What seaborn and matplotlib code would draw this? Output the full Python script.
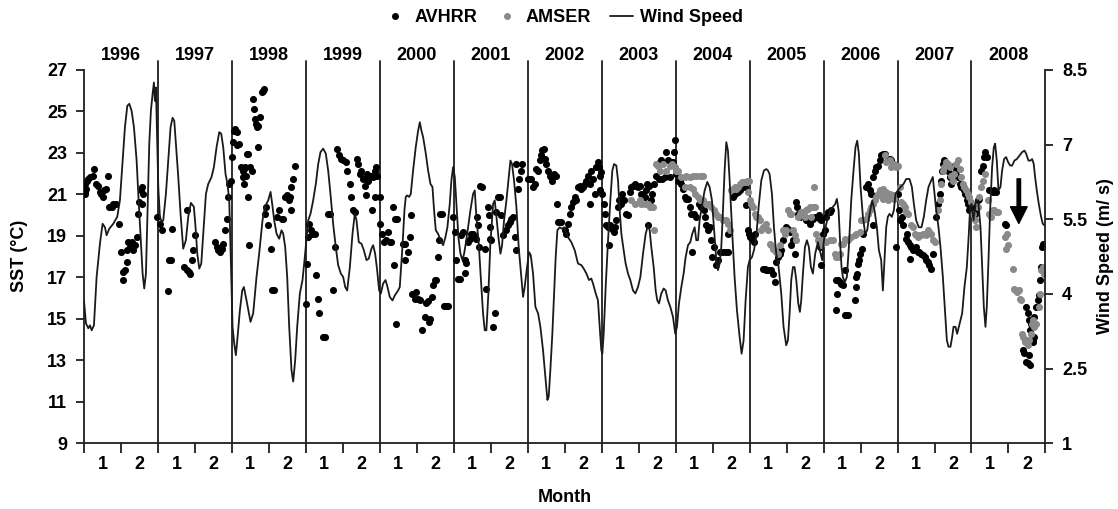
import numpy as np
import pandas as pd
import matplotlib
matplotlib.use("Agg")
import matplotlib.pyplot as plt
import seaborn as sns
from matplotlib.lines import Line2D

# ---------------- data (x = years since start of 1996) ----------------
years = [str(y) for y in range(1996, 2009)]
month_labels = ["1", "2"]
sst_ticks = [9, 11, 13, 15, 17, 19, 21, 23, 25, 27]
wind_ticks = [1, 2.5, 4, 5.5, 7, 8.5]
wind_tick_labels = ["1", "2.5", "4", "5.5", "7", "8.5"]

wind_t = [0.000, 0.027, 0.059, 0.081, 0.104, 0.135, 0.171, 0.216, 0.252, 0.284, 0.306, 0.342, 0.396, 0.450, 0.486, 0.523, 0.554, 0.586, 0.613, 0.644,
          0.676, 0.712, 0.739, 0.766, 0.793, 0.815, 0.838, 0.860, 0.883, 0.905, 0.928, 0.946, 0.959, 0.973, 0.986, 1.005, 1.027, 1.050, 1.072, 1.108,
          1.140, 1.171, 1.198, 1.221, 1.243, 1.275, 1.306, 1.342, 1.378, 1.410, 1.446, 1.486, 1.509, 1.532, 1.559, 1.586, 1.613, 1.649, 1.680, 1.725,
          1.757, 1.793, 1.829, 1.856, 1.883, 1.914, 1.941, 1.964, 1.986, 2.009, 2.032, 2.054, 2.077, 2.108, 2.140, 2.162, 2.198, 2.252, 2.288, 2.333,
          2.369, 2.414, 2.446, 2.491, 2.523, 2.545, 2.572, 2.604, 2.640, 2.671, 2.694, 2.721, 2.748, 2.775, 2.806, 2.829, 2.856, 2.883, 2.919, 2.955,
          2.986, 3.032, 3.063, 3.099, 3.135, 3.167, 3.198, 3.234, 3.270, 3.302, 3.333, 3.369, 3.405, 3.437, 3.473, 3.505, 3.532, 3.559, 3.595, 3.631,
          3.662, 3.685, 3.716, 3.752, 3.784, 3.820, 3.851, 3.887, 3.910, 3.937, 3.964, 3.991, 4.014, 4.045, 4.077, 4.104, 4.135, 4.171, 4.203, 4.248,
          4.270, 4.306, 4.333, 4.351, 4.369, 4.396, 4.419, 4.450, 4.486, 4.518, 4.541, 4.563, 4.586, 4.622, 4.653, 4.685, 4.712, 4.734, 4.757, 4.788,
          4.820, 4.856, 4.887, 4.914, 4.946, 4.968, 4.991, 5.014, 5.036, 5.063, 5.090, 5.117, 5.140, 5.162, 5.194, 5.225, 5.261, 5.284, 5.306, 5.338,
          5.365, 5.396, 5.419, 5.441, 5.468, 5.495, 5.532, 5.554, 5.577, 5.604, 5.631, 5.653, 5.680, 5.712, 5.739, 5.766, 5.788, 5.815, 5.847, 5.878,
          5.910, 5.937, 5.959, 5.991, 6.018, 6.041, 6.072, 6.104, 6.140, 6.171, 6.207, 6.239, 6.266, 6.284, 6.306, 6.333, 6.356, 6.378, 6.401, 6.432,
          6.464, 6.491, 6.545, 6.590, 6.635, 6.680, 6.725, 6.757, 6.793, 6.829, 6.860, 6.883, 6.919, 6.950, 6.973, 6.995, 7.009, 7.027, 7.054, 7.086,
          7.117, 7.144, 7.167, 7.198, 7.221, 7.243, 7.266, 7.297, 7.324, 7.356, 7.387, 7.423, 7.455, 7.491, 7.523, 7.559, 7.595, 7.626, 7.649, 7.671,
          7.703, 7.730, 7.752, 7.775, 7.806, 7.838, 7.865, 7.896, 7.928, 7.964, 7.995, 8.018, 8.045, 8.077, 8.108, 8.135, 8.167, 8.198, 8.225, 8.257,
          8.279, 8.302, 8.324, 8.360, 8.392, 8.428, 8.459, 8.491, 8.518, 8.550, 8.572, 8.595, 8.617, 8.640, 8.662, 8.685, 8.707, 8.730, 8.766, 8.797,
          8.829, 8.865, 8.892, 8.919, 8.946, 8.977, 9.000, 9.032, 9.059, 9.090, 9.122, 9.158, 9.194, 9.225, 9.248, 9.270, 9.302, 9.329, 9.360, 9.392,
          9.428, 9.459, 9.495, 9.518, 9.541, 9.563, 9.586, 9.608, 9.631, 9.658, 9.680, 9.698, 9.721, 9.748, 9.775, 9.802, 9.829, 9.856, 9.887, 9.923,
          9.955, 9.982, 10.000, 10.027, 10.059, 10.090, 10.126, 10.158, 10.180, 10.203, 10.225, 10.243, 10.261, 10.288, 10.315, 10.342, 10.374, 10.405, 10.432, 10.455,
          10.477, 10.500, 10.532, 10.563, 10.590, 10.622, 10.658, 10.689, 10.721, 10.748, 10.779, 10.802, 10.824, 10.847, 10.869, 10.892, 10.923, 10.950, 10.973, 11.005,
          11.041, 11.081, 11.117, 11.162, 11.194, 11.221, 11.252, 11.288, 11.324, 11.356, 11.387, 11.419, 11.455, 11.477, 11.500, 11.523, 11.554, 11.581, 11.613, 11.644,
          11.667, 11.689, 11.716, 11.739, 11.757, 11.784, 11.806, 11.829, 11.851, 11.874, 11.905, 11.937, 11.964, 11.982, 12.000, 12.027, 12.063, 12.090, 12.122, 12.144,
          12.167, 12.189, 12.207, 12.230, 12.252, 12.279, 12.302, 12.320, 12.342, 12.365, 12.392, 12.414, 12.441, 12.468, 12.495, 12.523, 12.550, 12.581, 12.613, 12.649,
          12.685, 12.716, 12.739, 12.770, 12.797, 12.820, 12.842, 12.860, 12.883, 12.910, 12.941, 12.964, 12.986]

wind_ms = [3.87, 3.41, 3.31, 3.37, 3.27, 3.37, 4.34, 5.01, 5.41, 5.34, 5.18, 5.31, 5.41, 5.55, 5.88, 6.68, 7.35, 7.78, 7.82, 7.68,
           7.35, 6.68, 5.88, 5.14, 4.41, 4.11, 4.41, 5.68, 7.02, 7.68, 8.02, 8.25, 7.88, 8.15, 7.35, 6.15, 5.55, 5.45, 5.48, 6.01,
           6.68, 7.35, 7.54, 7.48, 7.02, 6.35, 5.61, 4.91, 5.08, 5.55, 5.83, 5.75, 5.34, 4.81, 4.51, 4.61, 5.21, 6.01, 6.21, 6.35,
           6.55, 6.95, 7.25, 7.22, 6.95, 6.41, 6.21, 5.88, 4.68, 3.34, 3.00, 2.77, 3.14, 3.67, 4.07, 4.14, 3.87, 3.44, 3.61, 4.34,
           4.81, 5.48, 5.75, 5.88, 6.05, 5.81, 5.48, 5.21, 5.11, 5.28, 5.21, 4.94, 4.34, 3.34, 2.47, 2.24, 2.67, 3.34, 4.01, 4.28,
           4.74, 5.48, 5.61, 5.88, 6.21, 6.61, 6.85, 6.92, 6.82, 6.48, 6.01, 5.41, 4.94, 4.58, 4.41, 4.34, 4.14, 4.07, 4.54, 5.21,
           5.61, 5.48, 5.04, 5.01, 4.88, 4.68, 4.71, 4.91, 4.98, 4.81, 4.48, 4.07, 4.01, 4.21, 4.28, 4.14, 3.94, 3.87, 3.97, 4.07,
           4.14, 4.94, 5.68, 5.95, 5.98, 5.95, 6.01, 6.48, 6.95, 7.28, 7.45, 7.28, 7.15, 6.82, 6.48, 6.21, 6.15, 5.68, 5.28, 5.21,
           5.08, 4.98, 5.14, 5.34, 5.81, 6.28, 6.55, 6.35, 5.81, 5.14, 4.81, 4.68, 4.81, 5.01, 5.34, 5.68, 6.01, 6.08, 5.55, 5.01,
           4.34, 3.61, 3.27, 3.27, 4.01, 5.01, 5.81, 5.88, 5.55, 5.14, 4.81, 4.98, 5.48, 5.88, 6.28, 6.68, 6.61, 6.28, 5.75, 4.94,
           4.41, 3.94, 4.14, 4.54, 4.84, 4.78, 4.41, 3.74, 3.61, 3.34, 2.87, 2.34, 1.87, 1.94, 2.47, 3.20, 4.01, 4.74, 5.28, 5.34,
           5.31, 5.34, 5.14, 5.04, 4.88, 4.61, 4.58, 4.51, 4.41, 4.28, 4.31, 4.21, 4.01, 3.87, 3.34, 2.87, 2.80, 3.20, 4.14, 5.08,
           5.88, 6.48, 6.61, 6.58, 6.28, 5.68, 5.21, 4.88, 4.61, 4.41, 4.28, 4.07, 4.01, 4.14, 4.34, 4.81, 5.21, 5.38, 5.28, 4.94,
           4.54, 4.07, 3.87, 3.81, 4.01, 4.11, 4.07, 3.87, 3.74, 3.54, 3.20, 3.34, 3.81, 4.14, 4.41, 4.74, 4.98, 5.04, 5.21, 5.34,
           5.08, 5.08, 5.48, 5.81, 6.08, 6.25, 6.15, 5.88, 5.34, 4.68, 4.48, 4.61, 4.94, 5.68, 6.48, 7.05, 6.88, 6.28, 5.21, 4.34,
           3.67, 3.14, 2.80, 3.07, 3.87, 4.54, 4.68, 4.74, 4.88, 5.14, 5.75, 6.28, 6.48, 6.51, 6.48, 6.41, 6.01, 5.34, 4.81, 4.54,
           4.01, 3.34, 2.97, 3.07, 3.61, 4.28, 4.54, 4.54, 4.28, 3.81, 3.64, 3.87, 4.41, 4.94, 5.08, 4.94, 4.54, 4.41, 4.81, 5.04,
           4.84, 4.68, 5.01, 5.34, 5.55, 5.68, 5.75, 5.81, 5.91, 5.68, 5.01, 4.54, 4.34, 4.24, 4.34, 4.94, 5.88, 6.48, 6.95, 7.08,
           6.82, 6.15, 5.55, 5.21, 5.28, 5.61, 5.88, 5.68, 5.34, 4.88, 4.68, 4.07, 4.68, 5.34, 5.55, 5.61, 5.55, 5.68, 6.01, 6.08,
           6.15, 6.21, 6.31, 6.31, 6.15, 5.81, 5.48, 5.34, 5.34, 5.55, 5.88, 6.15, 6.28, 6.35, 6.01, 5.68, 5.34, 4.94, 4.34, 3.61,
           3.07, 2.94, 2.94, 3.14, 3.34, 3.34, 3.20, 3.34, 3.47, 3.61, 4.14, 4.54, 5.21, 5.75, 5.81, 5.48, 5.88, 5.88, 5.34, 4.54,
           3.74, 3.34, 3.74, 4.68, 5.68, 6.55, 6.95, 7.02, 6.68, 6.08, 6.15, 6.48, 6.71, 6.75, 6.65, 6.58, 6.58, 6.68, 6.71, 6.78,
           6.85, 6.88, 6.82, 6.68, 6.68, 6.71, 6.61, 6.35, 6.08, 5.81, 5.55, 5.41, 5.38]

# AVHRR SST (time, degC)
avhrr_1996 = [(0.010, 21.11), (0.012, 21.03), (0.014, 21.51), (0.027, 21.27), (0.036, 21.67), (0.059, 21.75), (0.081, 21.83), (0.117, 21.91),
              (0.135, 22.23), (0.162, 21.51), (0.194, 21.43), (0.216, 21.11), (0.230, 21.03), (0.252, 20.87), (0.270, 21.19), (0.297, 21.27),
              (0.320, 21.91), (0.342, 20.39), (0.374, 20.39), (0.396, 20.55), (0.432, 20.55), (0.477, 19.56), (0.495, 18.22), (0.523, 16.86),
              (0.532, 17.26), (0.554, 17.34), (0.577, 17.74), (0.577, 18.30), (0.599, 18.70), (0.622, 18.46), (0.644, 18.70), (0.667, 18.30),
              (0.689, 18.54), (0.721, 18.94), (0.734, 20.07), (0.748, 20.63), (0.766, 21.19), (0.779, 21.35), (0.793, 21.03), (0.784, 20.55)]
avhrr_1997 = [(0.991, 19.91), (1.027, 19.59), (1.050, 19.27), (1.140, 16.33), (1.153, 17.82), (1.171, 17.82), (1.185, 19.35), (1.351, 17.50),
              (1.387, 17.34), (1.414, 17.26), (1.432, 17.18), (1.396, 20.23), (1.455, 17.82), (1.477, 18.30), (1.500, 19.02), (1.770, 18.70),
              (1.793, 18.46), (1.815, 18.30), (1.838, 18.22), (1.860, 18.38), (1.883, 18.62), (1.905, 19.27), (1.928, 19.83), (1.941, 20.87),
              (1.964, 21.51), (1.982, 21.67)]
avhrr_1998 = [(1.995, 22.80), (2.009, 23.52), (2.027, 24.08), (2.041, 24.16), (2.063, 24.00), (2.072, 23.36), (2.099, 23.44), (2.122, 22.31),
              (2.144, 22.15), (2.153, 21.83), (2.167, 21.51), (2.185, 21.91), (2.198, 22.96), (2.221, 20.87), (2.234, 18.54), (2.162, 22.23),
              (2.176, 22.31), (2.221, 22.96), (2.243, 22.31), (2.266, 22.15), (2.279, 25.60), (2.297, 25.12), (2.311, 24.64), (2.324, 24.40),
              (2.342, 24.24), (2.356, 24.32), (2.356, 23.28), (2.378, 24.72), (2.401, 25.93), (2.423, 26.01), (2.432, 26.09), (2.446, 20.07),
              (2.468, 20.39), (2.491, 19.51), (2.527, 18.38), (2.536, 16.38), (2.568, 16.38), (2.604, 19.91), (2.640, 20.23), (2.671, 19.83),
              (2.694, 19.83), (2.716, 20.87), (2.739, 20.95), (2.761, 20.87), (2.775, 20.74), (2.784, 20.87), (2.793, 20.23), (2.806, 21.35),
              (2.829, 21.75), (2.851, 22.39)]
avhrr_1999 = [(3.000, 15.74), (3.009, 17.66), (3.032, 18.94), (3.045, 19.59), (3.063, 19.27), (3.090, 19.10), (3.122, 19.10), (3.144, 17.10),
              (3.158, 15.98), (3.176, 15.26), (3.234, 14.13), (3.257, 14.13), (3.302, 20.07), (3.324, 20.07), (3.369, 16.38), (3.392, 18.46),
              (3.423, 23.20), (3.450, 22.88), (3.473, 22.72), (3.505, 22.64), (3.541, 22.56), (3.563, 22.15), (3.595, 21.51), (3.617, 20.87),
              (3.640, 20.23), (3.662, 20.15), (3.685, 22.72), (3.707, 22.47), (3.730, 21.99), (3.752, 22.15), (3.775, 21.75), (3.797, 21.43),
              (3.811, 20.95), (3.833, 21.99), (3.842, 21.67), (3.856, 21.83), (3.878, 21.91), (3.896, 20.23), (3.910, 21.83), (3.932, 22.15),
              (3.932, 20.87), (3.955, 22.31), (3.968, 21.91), (4.000, 20.87)]
avhrr_2000 = [(4.009, 19.59), (4.036, 19.10), (4.054, 18.70), (4.090, 18.78), (4.113, 19.19), (4.135, 18.70), (4.158, 18.70), (4.180, 20.39),
              (4.194, 17.58), (4.203, 19.83), (4.216, 14.77), (4.234, 19.83), (4.315, 18.62), (4.347, 17.82), (4.338, 18.62), (4.383, 18.22),
              (4.405, 18.94), (4.428, 19.99), (4.441, 16.22), (4.473, 15.98), (4.495, 16.30), (4.518, 15.98), (4.550, 15.93), (4.577, 14.45),
              (4.608, 15.10), (4.631, 15.77), (4.653, 15.87), (4.667, 14.85), (4.685, 15.01), (4.707, 16.06), (4.721, 16.62), (4.743, 16.86),
              (4.766, 16.86), (4.788, 17.98), (4.802, 18.82), (4.820, 20.04), (4.847, 20.07), (4.865, 15.61), (4.901, 15.61), (4.923, 15.61)]
avhrr_2001 = [(4.991, 19.91), (5.014, 19.19), (5.027, 17.82), (5.059, 16.94), (5.081, 16.94), (5.104, 19.02), (5.126, 19.19), (5.149, 17.86),
              (5.158, 17.21), (5.171, 17.69), (5.194, 18.70), (5.216, 18.86), (5.239, 19.10), (5.261, 19.10), (5.284, 18.94), (5.306, 18.86),
              (5.320, 19.91), (5.329, 19.51), (5.342, 18.46), (5.360, 21.43), (5.387, 21.35), (5.419, 18.38), (5.441, 16.46), (5.464, 20.39),
              (5.477, 19.99), (5.486, 19.43), (5.495, 18.86), (5.509, 18.78), (5.532, 14.61), (5.554, 15.26), (5.577, 20.15), (5.599, 20.87),
              (5.622, 20.87), (5.644, 19.99), (5.667, 19.02), (5.712, 19.27), (5.734, 19.51), (5.757, 19.67), (5.779, 19.83), (5.802, 19.91),
              (5.824, 18.94), (5.838, 18.30), (5.847, 22.47), (5.869, 21.27), (5.883, 21.75), (5.914, 22.15), (5.928, 22.47)]
avhrr_2002 = [(6.005, 21.75), (6.027, 21.75), (6.050, 21.75), (6.072, 21.35), (6.095, 21.51), (6.117, 22.23), (6.140, 22.15), (6.162, 22.64),
              (6.185, 22.88), (6.198, 23.12), (6.216, 23.20), (6.239, 22.72), (6.252, 22.47), (6.275, 22.15), (6.297, 21.91), (6.320, 21.83),
              (6.333, 21.67), (6.351, 21.99), (6.378, 21.91), (6.396, 20.55), (6.410, 19.67), (6.455, 19.67), (6.500, 19.27), (6.523, 19.10),
              (6.545, 19.59), (6.568, 20.07), (6.590, 20.39), (6.613, 20.63), (6.635, 20.87), (6.658, 20.71), (6.680, 21.35), (6.703, 21.43),
              (6.725, 21.27), (6.748, 21.35), (6.770, 21.51), (6.793, 21.67), (6.815, 21.91), (6.838, 21.51), (6.847, 20.55), (6.860, 22.15),
              (6.883, 21.75), (6.905, 21.03), (6.928, 22.31), (6.950, 22.56), (6.964, 22.31), (6.973, 21.19), (6.982, 21.91), (6.995, 22.07)]
avhrr_2003 = [(7.009, 21.03), (7.027, 20.55), (7.041, 20.07), (7.063, 19.51), (7.086, 19.43), (7.099, 18.54), (7.117, 19.51), (7.144, 19.35),
              (7.162, 19.19), (7.176, 19.43), (7.198, 19.75), (7.221, 20.39), (7.234, 20.71), (7.257, 20.55), (7.279, 21.03), (7.297, 20.71),
              (7.333, 20.07), (7.356, 19.99), (7.378, 21.11), (7.401, 21.35), (7.423, 21.43), (7.446, 21.51), (7.468, 21.43), (7.495, 21.35),
              (7.514, 21.43), (7.536, 21.03), (7.559, 21.03), (7.581, 20.87), (7.595, 21.19), (7.613, 21.51), (7.640, 21.43), (7.662, 20.71),
              (7.685, 21.03), (7.703, 21.51), (7.739, 21.91), (7.770, 21.75), (7.784, 22.56), (7.806, 22.64), (7.820, 21.75), (7.851, 21.83),
              (7.874, 23.04), (7.896, 22.64), (7.919, 21.83), (7.941, 22.56), (7.964, 22.56), (7.977, 23.04), (7.986, 23.60), (7.626, 19.51)]
avhrr_2004 = [(8.009, 21.99), (8.032, 21.67), (8.054, 21.67), (8.077, 21.51), (8.099, 21.27), (8.122, 20.87), (8.144, 20.79), (8.167, 20.79),
              (8.189, 20.39), (8.212, 20.07), (8.225, 18.22), (8.248, 20.07), (8.279, 19.91), (8.315, 20.55), (8.347, 20.39), (8.378, 20.23),
              (8.401, 19.91), (8.414, 19.51), (8.437, 19.27), (8.459, 19.43), (8.482, 18.78), (8.495, 17.98), (8.514, 18.46), (8.541, 17.58),
              (8.572, 17.82), (8.595, 18.22), (8.640, 18.22), (8.685, 18.22), (8.707, 18.22), (8.707, 19.10), (8.775, 20.87), (8.797, 21.03),
              (8.820, 21.11), (8.842, 21.11), (8.865, 21.19), (8.887, 21.51), (8.910, 21.43), (8.932, 21.35), (8.955, 20.47)]
avhrr_2005 = [(8.977, 19.27), (8.991, 19.10), (9.009, 18.94), (9.036, 18.86), (9.059, 18.70), (9.068, 19.10), (9.180, 17.42), (9.203, 17.42),
              (9.225, 17.37), (9.248, 17.37), (9.270, 17.37), (9.293, 17.34), (9.315, 17.18), (9.338, 16.78), (9.360, 17.74), (9.383, 17.98),
              (9.405, 18.14), (9.428, 18.30), (9.450, 18.78), (9.473, 19.35), (9.495, 19.43), (9.518, 19.35), (9.541, 19.19), (9.563, 18.54),
              (9.586, 18.78), (9.608, 18.14), (9.622, 20.63), (9.640, 20.39), (9.658, 20.07), (9.676, 19.91), (9.698, 20.07), (9.721, 20.07),
              (9.743, 19.91), (9.766, 19.75), (9.788, 19.83), (9.811, 19.59), (9.833, 19.75), (9.856, 19.83), (9.878, 19.91), (9.901, 19.91),
              (9.932, 19.99), (9.946, 19.83), (9.955, 18.46), (9.959, 17.58), (9.968, 19.75)]
avhrr_2006 = [(9.991, 19.10), (10.014, 19.27), (10.036, 19.91), (10.059, 20.15), (10.081, 20.15), (10.104, 20.23), (10.162, 15.45), (10.171, 16.86),
              (10.180, 16.22), (10.194, 16.86), (10.216, 16.78), (10.239, 16.70), (10.261, 16.62), (10.284, 17.34), (10.284, 15.18), (10.306, 15.18),
              (10.329, 15.18), (10.419, 15.90), (10.432, 16.54), (10.441, 17.02), (10.455, 17.18), (10.464, 17.66), (10.477, 17.82), (10.495, 18.14),
              (10.523, 18.38), (10.532, 19.10), (10.577, 21.35), (10.599, 21.51), (10.622, 21.19), (10.644, 21.03), (10.667, 21.83), (10.667, 19.51),
              (10.689, 22.15), (10.712, 22.31), (10.734, 22.39), (10.757, 22.64), (10.779, 22.88), (10.802, 22.96), (10.824, 22.96), (10.824, 22.88),
              (10.869, 22.72), (10.892, 22.72), (10.914, 22.64), (10.937, 22.47), (10.973, 18.46)]
avhrr_2007 = [(11.005, 21.03), (11.018, 20.23), (11.036, 19.75), (11.063, 19.91), (11.072, 19.51), (11.108, 18.86), (11.126, 19.10), (11.144, 18.70),
              (11.162, 18.54), (11.171, 17.90), (11.185, 18.46), (11.207, 18.30), (11.230, 18.38), (11.252, 18.46), (11.275, 18.22), (11.297, 18.22),
              (11.320, 18.14), (11.342, 18.06), (11.365, 17.98), (11.387, 17.82), (11.410, 17.74), (11.432, 17.58), (11.455, 17.42), (11.477, 18.14),
              (11.523, 19.91), (11.545, 20.55), (11.568, 21.03), (11.590, 21.67), (11.604, 22.15), (11.613, 22.47), (11.635, 22.64), (11.658, 22.47),
              (11.680, 22.15), (11.703, 21.83), (11.725, 21.51), (11.748, 21.99), (11.770, 22.39), (11.793, 22.15), (11.815, 21.83), (11.838, 21.51),
              (11.860, 21.35), (11.883, 21.43), (11.905, 21.19), (11.919, 21.03), (11.937, 20.71), (11.950, 20.55), (11.973, 20.23)]
avhrr_2008 = [(11.995, 20.55), (12.018, 20.39), (12.041, 20.07), (12.063, 20.23), (12.086, 20.71), (12.108, 20.79), (12.131, 22.15), (12.153, 22.39),
              (12.176, 22.80), (12.189, 23.04), (12.207, 22.80), (12.243, 21.19), (12.288, 21.11), (12.311, 21.19), (12.333, 21.11), (12.459, 19.59),
              (12.468, 19.51), (12.694, 13.49), (12.716, 13.33), (12.730, 13.97), (12.739, 12.93), (12.739, 15.58), (12.761, 12.85), (12.761, 15.26),
              (12.775, 13.25), (12.784, 14.93), (12.793, 12.77), (12.793, 14.45), (12.806, 14.77), (12.820, 14.61), (12.829, 14.05), (12.829, 13.89),
              (12.851, 14.13), (12.851, 15.10), (12.874, 15.58), (12.896, 15.90), (12.919, 16.14), (12.928, 16.86), (12.941, 17.50), (12.955, 18.46),
              (12.964, 18.62)]

# AMSER SST (time, degC)
amser_2003 = [(7.401, 20.71), (7.446, 20.55), (7.514, 20.71), (7.536, 20.55), (7.581, 20.55), (7.626, 20.55), (7.649, 20.39), (7.694, 20.39),
              (7.707, 19.27), (7.739, 22.47), (7.761, 22.39), (7.784, 22.15), (7.829, 22.47), (7.874, 22.15), (7.919, 22.39), (7.955, 22.47),
              (7.986, 22.31)]
amser_2004 = [(8.009, 22.15), (8.032, 22.15), (8.077, 21.83), (8.122, 21.83), (8.144, 21.91), (8.189, 21.83), (8.234, 21.91), (8.279, 21.91),
              (8.324, 21.91), (8.369, 21.91), (8.122, 21.35), (8.189, 21.35), (8.234, 21.27), (8.257, 21.03), (8.302, 20.87), (8.324, 20.71),
              (8.369, 20.71), (8.414, 20.55), (8.450, 20.55), (8.482, 20.39), (8.514, 20.23), (8.550, 20.07), (8.572, 19.91), (8.595, 19.91),
              (8.640, 19.75), (8.685, 19.75), (8.707, 19.59), (8.730, 19.27), (8.752, 21.19), (8.775, 21.27), (8.797, 21.35), (8.820, 21.27),
              (8.842, 21.35), (8.874, 21.51), (8.901, 21.59), (8.919, 21.59), (8.946, 21.59), (8.964, 21.67), (8.991, 21.67), (8.977, 21.11)]
amser_2005 = [(9.000, 20.71), (9.023, 20.55), (9.045, 20.39), (9.068, 20.07), (9.090, 19.91), (9.113, 19.91), (9.135, 19.75), (9.158, 19.27),
              (9.180, 19.43), (9.225, 19.59), (9.248, 19.27), (9.270, 18.62), (9.293, 18.54), (9.315, 18.38), (9.338, 18.30), (9.360, 18.22),
              (9.383, 18.14), (9.405, 18.54), (9.450, 19.27), (9.473, 19.10), (9.495, 19.27), (9.518, 20.23), (9.541, 20.07), (9.563, 20.07),
              (9.586, 19.27), (9.608, 19.02), (9.631, 18.78), (9.653, 19.91), (9.676, 20.07), (9.698, 20.15), (9.721, 19.99), (9.743, 19.91),
              (9.766, 20.23), (9.788, 20.31), (9.811, 20.39), (9.833, 19.91), (9.856, 20.39), (9.865, 21.35), (9.878, 20.39), (9.901, 19.10),
              (9.923, 18.78), (9.946, 18.78), (9.968, 18.54)]
amser_2006 = [(9.991, 18.78), (10.036, 18.70), (10.081, 18.78), (10.126, 18.78), (10.149, 18.14), (10.171, 17.98), (10.194, 17.98), (10.216, 18.14),
              (10.239, 18.62), (10.261, 18.62), (10.284, 18.86), (10.329, 18.78), (10.374, 18.94), (10.419, 19.02), (10.441, 19.10), (10.486, 19.19),
              (10.509, 19.75), (10.532, 19.75), (10.577, 19.83), (10.599, 20.07), (10.622, 20.23), (10.644, 20.39), (10.667, 20.55), (10.689, 20.71),
              (10.712, 20.87), (10.734, 21.03), (10.757, 21.19), (10.779, 21.03), (10.802, 20.79), (10.847, 20.87), (10.869, 20.71), (10.824, 22.88),
              (10.892, 22.64), (10.847, 22.56), (10.914, 22.31), (10.959, 22.47), (10.982, 22.31), (10.802, 21.27), (10.847, 21.11), (10.892, 21.03),
              (10.937, 20.95), (10.959, 20.79)]
amser_2007 = [(11.005, 22.39), (11.027, 21.35), (11.050, 20.63), (11.072, 20.55), (11.095, 20.39), (11.117, 20.15), (11.140, 20.07), (11.185, 19.51),
              (11.207, 19.43), (11.230, 19.10), (11.252, 19.02), (11.275, 18.94), (11.297, 19.02), (11.320, 19.02), (11.342, 19.10), (11.365, 19.10),
              (11.387, 19.02), (11.410, 19.27), (11.432, 19.19), (11.455, 19.10), (11.477, 18.78), (11.500, 18.70), (11.545, 20.23), (11.568, 20.71),
              (11.590, 21.51), (11.613, 22.15), (11.635, 22.31), (11.658, 22.56), (11.680, 22.47), (11.703, 22.31), (11.725, 21.91), (11.748, 21.67),
              (11.770, 21.99), (11.793, 22.47), (11.815, 22.64), (11.838, 22.23), (11.860, 21.83), (11.883, 21.51), (11.905, 21.35), (11.928, 21.19),
              (11.950, 21.03), (11.973, 20.87), (11.995, 20.63)]
amser_2008 = [(12.018, 20.07), (12.041, 19.75), (12.063, 19.43), (12.086, 20.39), (12.108, 20.87), (12.131, 21.35), (12.162, 21.67), (12.189, 21.99),
              (12.225, 20.71), (12.243, 20.07), (12.266, 19.91), (12.288, 20.23), (12.311, 20.23), (12.333, 20.15), (12.356, 20.15), (12.459, 18.94),
              (12.477, 19.10), (12.468, 18.38), (12.491, 18.54), (12.559, 17.42), (12.572, 16.46), (12.595, 16.38), (12.617, 16.30), (12.640, 16.38),
              (12.658, 15.98), (12.671, 15.90), (12.685, 14.29), (12.703, 14.13), (12.730, 13.89), (12.761, 13.73), (12.784, 13.97), (12.806, 14.29),
              (12.820, 14.77), (12.838, 14.93), (12.851, 14.61), (12.874, 14.77), (12.910, 15.58), (12.932, 16.22), (12.946, 17.34), (12.964, 17.50),
              (12.977, 17.18)]

arrow_t = 12.64
arrow_from = 21.75
arrow_to = 19.6

# ---------------- build tables ----------------
avhrr_pts = (avhrr_1996 + avhrr_1997 + avhrr_1998 + avhrr_1999 + avhrr_2000 + avhrr_2001 + avhrr_2002 +
             avhrr_2003 + avhrr_2004 + avhrr_2005 + avhrr_2006 + avhrr_2007 + avhrr_2008)
amser_pts = amser_2003 + amser_2004 + amser_2005 + amser_2006 + amser_2007 + amser_2008
avhrr = pd.DataFrame(avhrr_pts, columns=["t", "sst"])
amser = pd.DataFrame(amser_pts, columns=["t", "sst"])
wind = pd.DataFrame({"t": wind_t, "w": wind_ms})

# ---------------- styling ----------------
sns.set_theme(style="white")
plt.rcParams['font.family'] = ['Liberation Sans', 'DejaVu Sans']
plt.rcParams['font.weight'] = 'bold'
plt.rcParams['axes.labelweight'] = 'bold'
plt.rcParams['text.color'] = 'black'
plt.rcParams['xtick.color'] = 'black'
plt.rcParams['ytick.color'] = 'black'
plt.rcParams['axes.labelcolor'] = 'black'

INK = "#1f1f1f"
FS = 13

fig = plt.figure(figsize=(11.18, 5.09), dpi=100)
ax = fig.add_axes([0.0751, 0.1291, 0.8600, 0.7334])
ax2 = ax.twinx()

sns.scatterplot(data=avhrr, x="t", y="sst", ax=ax, color="black", s=26, linewidth=0, legend=False, zorder=3)
sns.scatterplot(data=amser, x="t", y="sst", ax=ax, color="#8a8a8a", s=26, linewidth=0, legend=False, zorder=4)
sns.lineplot(data=wind, x="t", y="w", ax=ax2, color="#1a1a1a", lw=1.3, sort=False, estimator=None, legend=False)

ax.set_xlim(0, 13)
ax.set_ylim(9, 27)
ax2.set_ylim(1, 8.5)

# year separators
for i in range(1, len(years)):
    ax.plot([i, i], [9, 27.42], color=INK, lw=1.3, clip_on=False, zorder=2)
# year labels
for i, y in enumerate(years):
    ax.text(i + 0.5, 27.72, y, ha="center", va="center", fontsize=FS, fontweight="bold", color="black", clip_on=False)

# spines
for s in ["top", "right"]:
    ax.spines[s].set_visible(False)
for s in ["top", "left", "bottom"]:
    ax2.spines[s].set_visible(False)
for sp in [ax.spines["left"], ax.spines["bottom"], ax2.spines["right"]]:
    sp.set_color(INK)
    sp.set_linewidth(1.3)

# ticks
ax.set_yticks(sst_ticks)
ax.set_yticklabels([str(v) for v in sst_ticks])
ax.tick_params(axis="y", left=True, direction="out", length=6, width=1.3, color=INK, labelcolor="black", pad=6, labelsize=FS)
ax2.set_yticks(wind_ticks)
ax2.set_yticklabels(wind_tick_labels)
ax2.tick_params(axis="y", right=True, direction="out", length=6, width=1.3, color=INK, labelcolor="black", pad=6, labelsize=FS)

ax.set_xticks(np.arange(0, 13.01, 0.5))
ax.set_xticklabels([])
ax.set_xticks(np.arange(0.25, 13, 0.5), minor=True)
ax.set_xticklabels(month_labels * len(years), minor=True)
ax.tick_params(axis="x", which="major", bottom=True, direction="out", length=7, width=1.3, color=INK)
ax.tick_params(axis="x", which="minor", bottom=True, length=0, pad=9, labelsize=FS, labelcolor="black")

ax.set_xlabel("")
ax.set_ylabel("")
ax2.set_ylabel("")
ax.grid(False)
ax2.grid(False)

fig.text(20 / 1118, 0.497, "SST (°C)", rotation=90, ha="center", va="center", fontsize=FS, fontweight="bold", color="black")
fig.text(1106 / 1118, 0.497, "Wind Speed (m/ s)", rotation=90, ha="center", va="center", fontsize=FS, fontweight="bold", color="black")
fig.text(565 / 1118, 1 - 497 / 509, "Month", ha="center", va="center", fontsize=FS, fontweight="bold", color="black")

# arrow
ax.annotate("", xy=(arrow_t, arrow_to), xytext=(arrow_t, arrow_from),
            arrowprops=dict(facecolor="black", edgecolor="black", width=2.5, headwidth=12, headlength=12, shrink=0),
            zorder=6)

# legend
handles = [Line2D([], [], marker="o", color="black", linestyle="none", markersize=4),
           Line2D([], [], marker="o", color="#8a8a8a", linestyle="none", markersize=4),
           Line2D([], [], color="#1a1a1a", lw=1.3)]
leg = fig.legend(handles, ["AVHRR", "AMSER", "Wind Speed"], loc="center", bbox_to_anchor=(0.504, 1 - 18 / 509),
                 ncol=3, frameon=False, prop={"weight": "bold", "size": FS}, handlelength=1.3,
                 handletextpad=0.4, columnspacing=1.0)
for txt in leg.get_texts():
    txt.set_color("black")

fig.savefig("out.png", dpi=100)
